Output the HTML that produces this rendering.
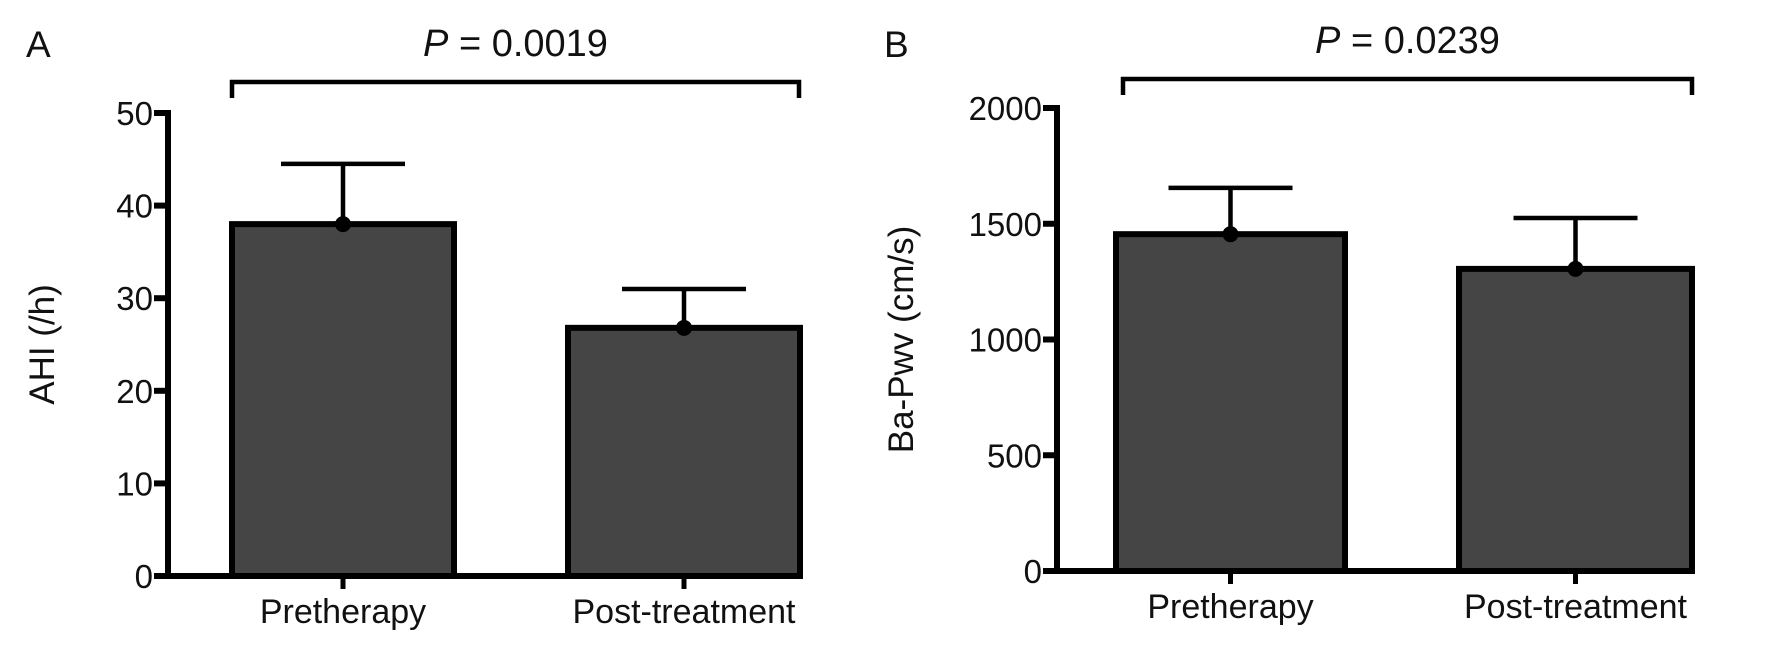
<!DOCTYPE html>
<html><head><meta charset="utf-8"><style>
body{margin:0;background:#fff;}
svg{display:block;font-family:"Liberation Sans",sans-serif;}
</style></head><body>
<svg id="c" width="1772" height="654" viewBox="0 0 1772 654"></svg>
<script>
const categories=["Pretherapy","Post-treatment"];
const aMeans=[38,26.8];
const aErr=[6.5,4.2];
const aTicks=[0,10,20,30,40,50];
const bMeans=[1455,1305];
const bErr=[200,220];
const bTicks=[0,500,1000,1500,2000];
const NS="http://www.w3.org/2000/svg";
const svg=document.getElementById('c');
function mk(t,a,p){const e=document.createElementNS(NS,t);for(const k in a)e.setAttribute(k,a[k]);(p||svg).appendChild(e);return e;}
function panel(o){
  const g=mk('g',{});
  
  
  const y=v=>o.y0-(v/o.max)*(o.y0-o.yTop);
  const ya=mk('line',{x1:o.ax,y1:y(o.max)-3,x2:o.ax,y2:o.y0+3,stroke:'#000','stroke-width':6},g);
  
  const xa=mk('line',{x1:o.ax-3,y1:o.y0,x2:o.xEnd,y2:o.y0,stroke:'#000','stroke-width':6},g);
  
  o.ticks.forEach(t=>{
    const tk=mk('line',{x1:o.ax-14,y1:y(t),x2:o.ax,y2:y(t),stroke:'#000','stroke-width':6},g);
    
    const tl=mk('text',{x:o.ax-15,y:y(t)+12,'text-anchor':'end','font-size':33,fill:'#111'},g);
    tl.textContent=t;
    
  });
  const yt=mk('text',{transform:`translate(${o.ytX},${(o.y0+y(o.max))/2}) rotate(-90)`,'text-anchor':'middle','font-size':35,fill:'#111'},g);
  yt.textContent=o.ylabel;
  
  o.means.forEach((m,i)=>{
    const x0=o.bars[i][0],x1=o.bars[i][1],cx=(x0+x1)/2;
    const b=mk('rect',{x:x0,y:y(m),width:x1-x0,height:o.y0-y(m),fill:'#454545',stroke:'#000','stroke-width':6},g);
    
    const e=mk('path',{d:`M${cx} ${y(m)} V${y(m+o.err[i])} M${cx-62} ${y(m+o.err[i])} H${cx+62}`,stroke:'#000','stroke-width':4.5,fill:'none'},g);
    
    const d=mk('circle',{cx:cx,cy:y(m),r:8,fill:'#000'},g);
    
    const tk=mk('line',{x1:cx,y1:o.y0,x2:cx,y2:o.y0+13,stroke:'#000','stroke-width':5},g);
    
    const l=mk('text',{x:cx,y:o.y0+47,'text-anchor':'middle','font-size':34,fill:'#111'},g);
    l.textContent=categories[i];
    
  });
  const br=mk('path',{d:`M${o.bracket[0]} ${o.brY+16} V${o.brY} H${o.bracket[1]} V${o.brY+16}`,stroke:'#000','stroke-width':4.5,fill:'none'},g);
  
  const p=mk('text',{x:(o.bracket[0]+o.bracket[1])/2,y:o.brY-26,'text-anchor':'middle','font-size':38,fill:'#111'},g);
  p.innerHTML='<tspan font-style="italic">P</tspan> = '+o.p;
  
  const L=mk('text',{x:o.letterX,y:57,'font-size':37,fill:'#111'},g);
  L.textContent=o.letter;
  
}
panel({name:'panel-a',ax:168,y0:576,yTop:113,max:50,xEnd:802,ticks:aTicks,means:aMeans,err:aErr,bars:[[232,454],[568,800]],ylabel:'AHI  (/h)',ytX:54,bracket:[232,799],brY:82,p:'0.0019',letter:'A',letterX:26});
panel({name:'panel-b',ax:1057,y0:571,yTop:108,max:2000,xEnd:1694,ticks:bTicks,means:bMeans,err:bErr,bars:[[1116,1345],[1459,1692]],ylabel:'Ba-Pwv  (cm/s)',ytX:913,bracket:[1123,1692],brY:79,p:'0.0239',letter:'B',letterX:884});
</script>
</body></html>
